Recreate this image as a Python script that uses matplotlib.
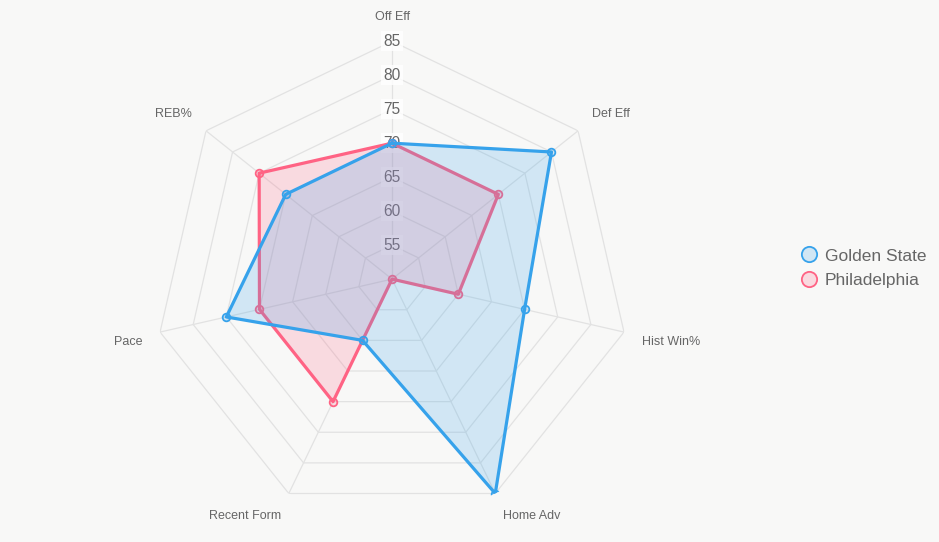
import numpy as np
import matplotlib
matplotlib.use('Agg')
import matplotlib.pyplot as plt
from matplotlib.lines import Line2D

plt.rcParams['font.family'] = ['Liberation Sans', 'DejaVu Sans']

categories = ["Off Eff", "Def Eff", "Hist Win%", "Home Adv", "Recent Form", "Pace", "REB%"]
golden_state = [70, 80, 70, 85, 60, 75, 70]
philadelphia = [70, 70, 60, 50, 70, 70, 75]
ticks = [55, 60, 65, 70, 75, 80, 85]
r_min, r_max = 50, 85

bg = '#f8f8f7'
blue = '#36a2eb'
pink = '#ff6384'

n = len(categories)
angles = np.arange(n) * 2 * np.pi / n
closed = np.append(angles, angles[0])

fig = plt.figure(figsize=(9.39, 5.42), dpi=100, facecolor=bg)
ax = fig.add_axes([0.164, 0.046, 0.507, 0.878], projection='polar')
ax.set_facecolor('none')
ax.set_theta_zero_location('N')
ax.set_theta_direction(-1)
ax.set_ylim(r_min, r_max)
ax.grid(False)
ax.spines['polar'].set_visible(False)
ax.set_xticks([])
ax.set_yticks([])

# polygon grid
for t in ticks:
    ax.plot(closed, [t] * (n + 1), color='#e2e2e2', lw=0.9, zorder=1)
for a in angles:
    ax.plot([a, a], [r_min, r_max], color='#e2e2e2', lw=0.9, zorder=1)

# tick labels sit under the datasets
for t in ticks:
    ax.text(0, t, str(t), ha='center', va='center', fontsize=11.2, color='#666666',
            zorder=1.5, bbox=dict(boxstyle='square,pad=0.15', fc='white', ec='none', alpha=0.8))

# Philadelphia first, Golden State drawn on top
for vals, col, z in [(philadelphia, pink, 2), (golden_state, blue, 3)]:
    v = np.append(vals, vals[0])
    ax.fill(closed, v, color=col, alpha=0.2, lw=0, zorder=z)
    ax.plot(closed, v, color=col, lw=2.3, zorder=z)
    ax.plot(angles, vals, 'o', ms=5.5, mfc=matplotlib.colors.to_rgba(col, 0.2),
            mec=col, mew=1.3, zorder=z)

# point labels
r_lab = r_min + 256 / 6.8
align = [('center', 'bottom'), ('left', 'bottom'), ('left', 'top'), ('left', 'top'),
         ('right', 'top'), ('right', 'top'), ('right', 'bottom')]
for a, lab, (ha, va) in zip(angles, categories, align):
    ax.text(a, r_lab, lab, ha=ha, va=va, fontsize=9, color='#666666')

handles = [Line2D([], [], ls='none', marker='o', ms=11, mfc=matplotlib.colors.to_rgba(c, 0.2),
                  mec=c, mew=1.3) for c in (blue, pink)]
fig.legend(handles, ["Golden State", "Philadelphia"], loc='center left',
           bbox_to_anchor=(0.834, 0.505), frameon=False, fontsize=12.5,
           labelcolor='#666666', handletextpad=0.3, labelspacing=0.55, handlelength=1.2)

fig.savefig('out.png', dpi=100, facecolor=bg)
